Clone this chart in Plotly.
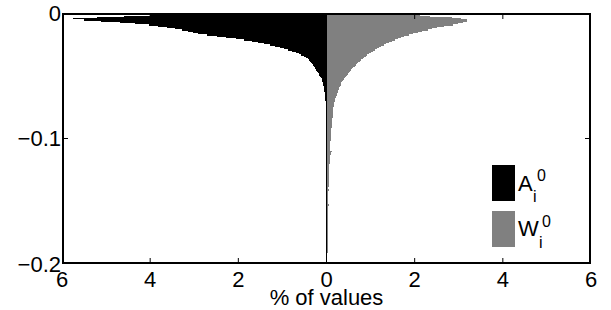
import numpy as np
import plotly.graph_objects as go

# Histogram bins: 0 to -0.2, width 0.001 (200 bins)
BIN_WIDTH = 0.001
N_BINS = 200
bin_centers = -(np.arange(N_BINS) + 0.5) * BIN_WIDTH

# % of values per bin, A_i^0 (drawn to the left)
a_values = [
    3.3, 4.0, 4.6, 5.2, 5.75, 5.5, 5.12, 4.69, 4.35, 4.03,
    3.83, 3.62, 3.44, 3.28, 3.14, 3.03, 2.92, 2.71, 2.48, 2.28,
    2.05, 1.87, 1.69, 1.55, 1.42, 1.28, 1.17, 1.05, 0.96, 0.87,
    0.78, 0.69, 0.62, 0.58, 0.51, 0.46, 0.43, 0.39, 0.37, 0.35,
    0.33, 0.30, 0.28, 0.27, 0.25, 0.23, 0.21, 0.20, 0.18, 0.16,
    0.14, 0.13, 0.11, 0.10, 0.095, 0.086, 0.08, 0.075, 0.068, 0.064,
    0.057, 0.052, 0.048, 0.043, 0.039, 0.034, 0.032, 0.03, 0.027, 0.025,
    0.022, 0.02, 0.018, 0.016, 0.014, 0.012, 0.011, 0.01, 0.009, 0.008,
    0.007, 0.007, 0.006, 0.006, 0.006, 0.005, 0.005, 0.005, 0.005, 0.004,
    0.004, 0.004, 0.004, 0.004, 0.003, 0.003, 0.003, 0.003, 0.003, 0.003,
    0.003, 0.003, 0.003, 0.003, 0.003, 0.003, 0.003, 0.003, 0.002, 0.002,
    0.002, 0.002, 0.002, 0.002, 0.002, 0.002, 0.002, 0.002, 0.002, 0.002,
    0.002, 0.002, 0.002, 0.002, 0.002, 0.002, 0.002, 0.002, 0.002, 0.002,
    0.002, 0.002, 0.002, 0.002, 0.002, 0.001, 0.001, 0.001, 0.001, 0.001,
    0.001, 0.001, 0.001, 0.001, 0.001, 0.001, 0.001, 0.001, 0.001, 0.001,
    0.001, 0.001, 0.001, 0.001, 0.001, 0.001, 0.001, 0.001, 0.001, 0.001,
    0.001, 0.001, 0.001, 0.001, 0.001, 0.001, 0.001, 0.001, 0.001, 0.001,
    0.001, 0.001, 0.001, 0.001, 0.001, 0.001, 0.001, 0.001, 0.001, 0.001,
    0.001, 0.001, 0.001, 0.001, 0.001, 0.001, 0.001, 0.001, 0.001, 0.001,
    0.001, 0.001, 0.001, 0.001, 0.001, 0.001, 0.001, 0.001, 0.001, 0.001,
]

# % of values per bin, W_i^0 (drawn to the right)
w_values = [
    1.9, 2.12, 2.35, 2.85, 3.05, 3.19, 3.19, 3.10, 2.99, 2.87,
    2.67, 2.51, 2.40, 2.31, 2.17, 2.08, 1.97, 1.88, 1.76, 1.69,
    1.63, 1.56, 1.49, 1.42, 1.35, 1.31, 1.24, 1.19, 1.15, 1.10,
    1.06, 1.01, 0.97, 0.92, 0.89, 0.85, 0.82, 0.78, 0.75, 0.72,
    0.69, 0.67, 0.64, 0.60, 0.58, 0.56, 0.53, 0.51, 0.49, 0.47,
    0.44, 0.42, 0.40, 0.37, 0.36, 0.34, 0.33, 0.32, 0.30, 0.29,
    0.28, 0.27, 0.26, 0.25, 0.24, 0.23, 0.22, 0.21, 0.20, 0.19,
    0.185, 0.18, 0.17, 0.165, 0.16, 0.155, 0.15, 0.15, 0.15, 0.15,
    0.15, 0.145, 0.14, 0.14, 0.135, 0.13, 0.13, 0.125, 0.12, 0.12,
    0.115, 0.115, 0.11, 0.11, 0.105, 0.105, 0.10, 0.10, 0.098, 0.095,
    0.095, 0.092, 0.09, 0.09, 0.088, 0.085, 0.085, 0.082, 0.08, 0.08,
    0.12, 0.11, 0.10, 0.08, 0.075, 0.078, 0.072, 0.07, 0.07, 0.068,
    0.066, 0.065, 0.063, 0.062, 0.06, 0.06, 0.058, 0.057, 0.055, 0.055,
    0.053, 0.052, 0.05, 0.05, 0.06, 0.058, 0.048, 0.047, 0.046, 0.045,
    0.06, 0.058, 0.045, 0.044, 0.043, 0.042, 0.042, 0.041, 0.04, 0.04,
    0.04, 0.039, 0.055, 0.05, 0.038, 0.037, 0.037, 0.036, 0.036, 0.035,
    0.035, 0.034, 0.034, 0.033, 0.033, 0.032, 0.032, 0.031, 0.031, 0.03,
    0.03, 0.03, 0.029, 0.029, 0.028, 0.028, 0.028, 0.027, 0.027, 0.026,
    0.026, 0.026, 0.025, 0.025, 0.025, 0.024, 0.024, 0.024, 0.023, 0.023,
    0.023, 0.022, 0.022, 0.022, 0.021, 0.021, 0.021, 0.02, 0.02, 0.02,
]
w_values = w_values[:N_BINS]

x_tick_vals = [-6, -4, -2, 0, 2, 4, 6]
x_tick_text = ["6", "4", "2", "0", "2", "4", "6"]
y_tick_vals = [-0.2, -0.1, 0]
y_tick_text = ["\u22120.2", "\u22120.1", "0"]

X_RANGE = [-6, 6]
Y_RANGE = [-0.2, 0]

FONT = "Liberation Sans, Arial, Helvetica, sans-serif"

FIG_W, FIG_H = 611, 310
# plot area in pixels (frame lines drawn inside its edges)
L, R, T, B = 62, 591, 13, 264
PW, PH = R - L, B - T
X_PER_PX = (X_RANGE[1] - X_RANGE[0]) / PW
Y_PER_PX = (Y_RANGE[1] - Y_RANGE[0]) / PH
LINE_W = 2      # frame thickness, px
TICK_LEN = 6    # tick length from the outer edge, px

fig = go.Figure()
fig.add_trace(go.Bar(
    y=bin_centers, x=[-v for v in a_values], orientation="h",
    width=BIN_WIDTH, marker=dict(color="#000000", line=dict(width=0)),
    name="A", showlegend=False,
))
fig.add_trace(go.Bar(
    y=bin_centers, x=w_values, orientation="h",
    width=BIN_WIDTH, marker=dict(color="#808080", line=dict(width=0)),
    name="W", showlegend=False,
))

def px(x):
    return (x - L) / PW
def py(y):
    return (B - y) / PH

def solid(xref, yref, x0, x1, y0, y1, color="#000000", layer="above"):
    fig.add_shape(type="rect", xref=xref, yref=yref, x0=x0, x1=x1, y0=y0, y1=y1,
                  fillcolor=color, line=dict(width=0), layer=layer)

# baseline at 0 (MATLAB barh baseline)
solid("x", "paper", -0.5 * X_PER_PX, 0.5 * X_PER_PX, 0, 1)

# axes frame
solid("x", "paper", X_RANGE[0], X_RANGE[0] + LINE_W * X_PER_PX, 0, 1)
solid("x", "paper", X_RANGE[1] - LINE_W * X_PER_PX, X_RANGE[1], 0, 1)
solid("paper", "y", 0, 1, Y_RANGE[0], Y_RANGE[0] + LINE_W * Y_PER_PX)
solid("paper", "y", 0, 1, Y_RANGE[1] - LINE_W * Y_PER_PX, Y_RANGE[1])

# inward ticks (mirrored)
for v in x_tick_vals[1:-1]:
    solid("x", "y", v - 0.5 * X_PER_PX, v + 0.5 * X_PER_PX,
          Y_RANGE[0], Y_RANGE[0] + TICK_LEN * Y_PER_PX)
    solid("x", "y", v - 0.5 * X_PER_PX, v + 0.5 * X_PER_PX,
          Y_RANGE[1] - TICK_LEN * Y_PER_PX, Y_RANGE[1])
for v in y_tick_vals[1:-1]:
    solid("x", "y", X_RANGE[0], X_RANGE[0] + TICK_LEN * X_PER_PX,
          v - 0.5 * Y_PER_PX, v + 0.5 * Y_PER_PX)
    solid("x", "y", X_RANGE[1] - TICK_LEN * X_PER_PX, X_RANGE[1],
          v - 0.5 * Y_PER_PX, v + 0.5 * Y_PER_PX)

# Legend drawn as boxes + labels (MATLAB style)
solid("paper", "paper", px(492), px(515), py(201), py(165))
solid("paper", "paper", px(492), px(515), py(247), py(211), color="#808080")

def label(x, y, text, size):
    fig.add_annotation(xref="paper", yref="paper", x=px(x), y=py(y),
                       text=text, showarrow=False, xanchor="left",
                       yanchor="middle", font=dict(family=FONT, size=size, color="black"))

label(516, 183, "A", 22)
label(535, 175, "0", 16)
label(531, 196, "i", 16)
label(516, 228, "W", 22)
label(540, 221, "0", 16)
label(537, 242, "i", 16)

axis_common = dict(
    ticks="", showline=False, showgrid=False, zeroline=False,
    ticklabeloverflow="allow", automargin=False,
)

fig.update_layout(
    width=FIG_W, height=FIG_H,
    margin=dict(l=L, r=FIG_W - R, t=T, b=FIG_H - B),
    paper_bgcolor="white", plot_bgcolor="white",
    barmode="overlay", bargap=0,
    font=dict(family=FONT, size=22, color="black"),
    xaxis=dict(
        range=X_RANGE, tickvals=x_tick_vals, ticktext=x_tick_text,
        title=dict(text="% of values", standoff=0, font=dict(size=22)),
        **axis_common,
    ),
    yaxis=dict(
        range=Y_RANGE, tickvals=y_tick_vals, ticktext=y_tick_text,
        **axis_common,
    ),
)

fig.write_html(
    "out.html",
    config={"displayModeBar": False, "staticPlot": True},
    post_script="document.body.style.margin='0px';",
)
